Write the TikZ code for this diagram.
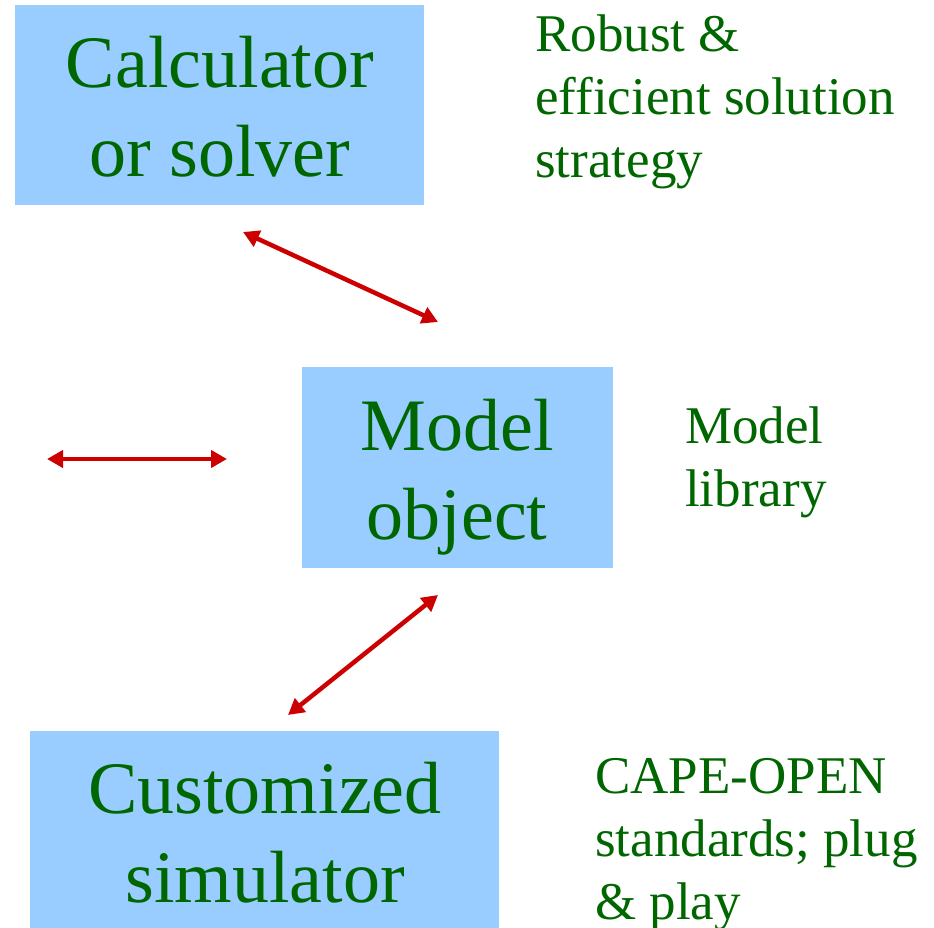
\documentclass[tikz,border=0pt]{standalone}
\usepackage{fontspec}
\setmainfont{Liberation Serif}
\usetikzlibrary{arrows.meta}

\definecolor{boxblue}{HTML}{99CCFF}
\definecolor{textgreen}{HTML}{006600}
\definecolor{linkred}{HTML}{CC0000}

\begin{document}
\begin{tikzpicture}[x=1pt,y=-1pt,
  block/.style={fill=boxblue,draw=none,inner sep=0pt,outer sep=0pt},
  blocktext/.style={anchor=base,inner sep=0pt,text=textgreen,
    font=\fontsize{74}{89}\selectfont},
  note/.style={anchor=base west,inner sep=0pt,text=textgreen,
    font=\fontsize{53}{63}\selectfont},
  link/.style={draw=linkred,line width=4.5pt,
    {Triangle[length=16pt,width=17pt]}-{Triangle[length=16pt,width=17pt]}}]

  % canvas
  \useasboundingbox (0,0) rectangle (934,928);

  % blue component boxes
  \node[block,minimum width=409pt,minimum height=200pt,anchor=north west]
    (calc) at (15,5) {};
  \node[block,minimum width=311pt,minimum height=201pt,anchor=north west]
    (model) at (302,367) {};
  \node[block,minimum width=469pt,minimum height=197pt,anchor=north west]
    (sim) at (30,731) {};

  % box captions (baseline of the first line)
  \node[blocktext] (calctext) at (220,88)
    {\begin{tabular}[t]{@{}c@{}}Calculator\\or solver\end{tabular}};
  \node[blocktext] (modeltext) at (457,450)
    {\begin{tabular}[t]{@{}c@{}}Model\\object\end{tabular}};
  \node[blocktext] (simtext) at (265,813)
    {\begin{tabular}[t]{@{}c@{}}Customized\\simulator\end{tabular}};

  % side notes
  \node[note] (notecalc) at (535,52)
    {\begin{tabular}[t]{@{}l@{}}Robust \&\\efficient solution\\strategy\end{tabular}};
  \node[note] (notemodel) at (685,443)
    {\begin{tabular}[t]{@{}l@{}}Model\\library\end{tabular}};
  \node[note] (notesim) at (595,793)
    {\begin{tabular}[t]{@{}l@{}}CAPE-OPEN\\standards; plug\\\& play\end{tabular}};

  % arrow end points
  \coordinate (calcend) at (243,232);
  \coordinate (modeltop) at (438,322);
  \coordinate (leftend) at (47,459);
  \coordinate (modelleft) at (227,459);
  \coordinate (modelbottom) at (438,595);
  \coordinate (simend) at (288,715);

  % two-way links
  \draw[link] (calcend) -- (modeltop);
  \draw[link] (leftend) -- (modelleft);
  \draw[link] (modelbottom) -- (simend);
\end{tikzpicture}
\end{document}
